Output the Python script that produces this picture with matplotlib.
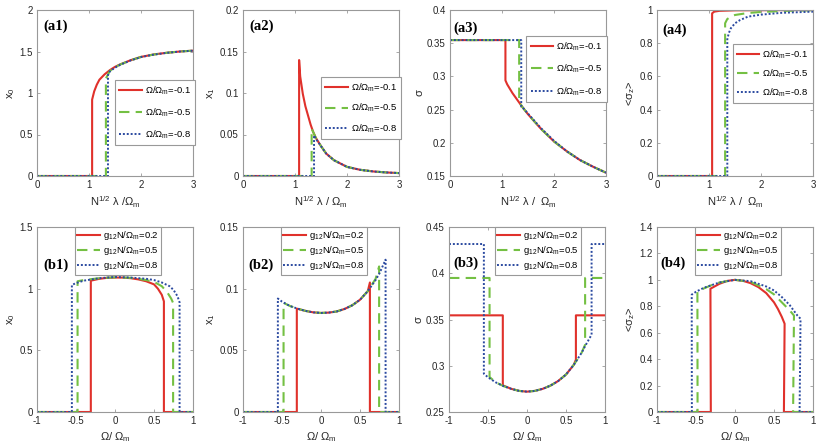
import numpy as np
import matplotlib
matplotlib.use("Agg")
import matplotlib.pyplot as plt
from matplotlib.ticker import FormatStrFormatter

plt.rcParams['font.family'] = ['Liberation Sans', 'DejaVu Sans']
plt.rcParams['mathtext.fontset'] = 'custom'
plt.rcParams['mathtext.rm'] = 'Liberation Sans'
plt.rcParams['mathtext.it'] = 'Liberation Sans'
plt.rcParams['mathtext.bf'] = 'Liberation Sans:bold'
plt.rcParams['axes.unicode_minus'] = False

# ---------------- data ----------------
# top row: x = N^(1/2) lambda / Omega_m, curves for Omega/Omega_m = -0.1, -0.5, -0.8
top_labels = [r'Ω/Ω$_\mathrm{m}$=-0.1', r'Ω/Ω$_\mathrm{m}$=-0.5', r'Ω/Ω$_\mathrm{m}$=-0.8']

# (a1) x0
a1_crit = [1.06, 1.325, 1.365]
a1_red_x = [1.06, 1.1, 1.15, 1.2, 1.3, 1.4, 1.5, 1.6, 1.8, 2.0, 2.25, 2.5, 2.75, 3.0]
a1_red_y = [0.92, 1.02, 1.10, 1.16, 1.225, 1.275, 1.315, 1.345, 1.395, 1.435, 1.465, 1.485, 1.50, 1.51]
a1_green_x = [1.325, 1.4, 1.5, 1.6, 1.8, 2.0, 2.25, 2.5, 2.75, 3.0]
a1_green_y = [1.175, 1.265, 1.31, 1.343, 1.394, 1.434, 1.464, 1.485, 1.50, 1.51]
a1_blue_x = [1.365, 1.4, 1.5, 1.6, 1.8, 2.0, 2.25, 2.5, 2.75, 3.0]
a1_blue_y = [1.215, 1.26, 1.305, 1.34, 1.392, 1.433, 1.463, 1.484, 1.50, 1.51]

# (a2) x1
a2_crit = [1.079, 1.32, 1.366]
a2_red_x = [1.079, 1.1, 1.15, 1.2, 1.25, 1.3, 1.35, 1.4, 1.5, 1.6, 1.75, 2.0, 2.25, 2.5, 2.75, 3.0]
a2_red_y = [0.1397, 0.12, 0.099, 0.084, 0.073, 0.062, 0.053, 0.046, 0.036, 0.027, 0.019, 0.011, 0.0075, 0.0055, 0.0043, 0.0035]
a2_green_x = [1.32, 1.35, 1.4, 1.5, 1.6, 1.75, 2.0, 2.25, 2.5, 2.75, 3.0]
a2_green_y = [0.057, 0.053, 0.046, 0.036, 0.027, 0.019, 0.011, 0.0075, 0.0055, 0.0043, 0.0035]
a2_blue_x = [1.366, 1.4, 1.5, 1.6, 1.75, 2.0, 2.25, 2.5, 2.75, 3.0]
a2_blue_y = [0.049, 0.045, 0.036, 0.027, 0.019, 0.011, 0.0075, 0.0055, 0.0043, 0.0035]

# (a3) sigma
a3_flat = 0.3547
a3_crit = [1.066, 1.33, 1.37]
a3_red_x = [1.066, 1.1, 1.2, 1.3, 1.4, 1.5, 1.75, 2.0, 2.25, 2.5, 2.75, 3.0]
a3_red_y = [0.294, 0.288, 0.275, 0.264, 0.253, 0.243, 0.221, 0.202, 0.187, 0.174, 0.164, 0.155]
a3_green_x = [1.33, 1.4, 1.5, 1.75, 2.0, 2.25, 2.5, 2.75, 3.0]
a3_green_y = [0.261, 0.253, 0.243, 0.221, 0.202, 0.187, 0.174, 0.164, 0.155]
a3_blue_x = [1.37, 1.4, 1.5, 1.75, 2.0, 2.25, 2.5, 2.75, 3.0]
a3_blue_y = [0.2545, 0.253, 0.244, 0.222, 0.203, 0.187, 0.174, 0.164, 0.155]

# (a4) <sigma_z>
a4_crit = [1.06, 1.31, 1.352]
a4_red_x = [1.06, 1.1, 1.2, 1.5, 3.0]
a4_red_y = [0.98, 0.99, 0.995, 0.998, 1.0]
a4_green_x = [1.31, 1.35, 1.42, 1.5, 1.75, 2.0, 2.5, 3.0]
a4_green_y = [0.92, 0.945, 0.96, 0.97, 0.982, 0.988, 0.995, 0.998]
a4_blue_x = [1.352, 1.38, 1.42, 1.5, 1.6, 1.75, 2.0, 2.4, 3.0]
a4_blue_y = [0.823, 0.86, 0.89, 0.92, 0.94, 0.96, 0.972, 0.983, 0.99]

# bottom row: x = Omega/Omega_m, curves for g12 N/Omega_m = 0.2, 0.5, 0.8
bot_labels = [r'g$_{12}$N/Ω$_\mathrm{m}$=0.2', r'g$_{12}$N/Ω$_\mathrm{m}$=0.5', r'g$_{12}$N/Ω$_\mathrm{m}$=0.8']
bot_left = [-0.31, -0.48, -0.553]
bot_right = [0.627, 0.745, 0.828]

# (b1) x0
b1_red_x = [-0.31, -0.2, -0.1, 0.0, 0.1, 0.2, 0.3, 0.4, 0.5, 0.55, 0.6, 0.627]
b1_red_y = [1.065, 1.08, 1.088, 1.09, 1.09, 1.085, 1.075, 1.06, 1.035, 1.0, 0.95, 0.897]
b1_green_x = [-0.48, -0.4, -0.2, 0.0, 0.2, 0.4, 0.5, 0.6, 0.67, 0.72, 0.745]
b1_green_y = [1.06, 1.07, 1.085, 1.092, 1.088, 1.07, 1.055, 1.02, 0.97, 0.92, 0.884]
b1_blue_x = [-0.553, -0.5, -0.4, -0.2, 0.0, 0.2, 0.4, 0.5, 0.6, 0.7, 0.75, 0.8, 0.828]
b1_blue_y = [1.03, 1.045, 1.065, 1.085, 1.095, 1.09, 1.08, 1.07, 1.05, 1.02, 0.99, 0.94, 0.889]

# (b2) x1
b2_red_x = [-0.31, -0.2, -0.1, 0.0, 0.1, 0.2, 0.3, 0.4, 0.5, 0.6, 0.627]
b2_red_y = [0.0838, 0.082, 0.0808, 0.0803, 0.0806, 0.0815, 0.0835, 0.0865, 0.091, 0.098, 0.105]
b2_green_x = [-0.48, -0.4, -0.3, -0.2, -0.1, 0.0, 0.1, 0.2, 0.3, 0.4, 0.5, 0.6, 0.7, 0.745]
b2_green_y = [0.0885, 0.086, 0.0838, 0.082, 0.0808, 0.0803, 0.0806, 0.0815, 0.0835, 0.0865, 0.091, 0.098, 0.108, 0.118]
b2_blue_x = [-0.553, -0.5, -0.4, -0.3, -0.2, -0.1, 0.0, 0.1, 0.2, 0.3, 0.4, 0.5, 0.6, 0.7, 0.75, 0.828]
b2_blue_y = [0.092, 0.0895, 0.086, 0.0838, 0.082, 0.0808, 0.0803, 0.0806, 0.0815, 0.0835, 0.0865, 0.091, 0.098, 0.107, 0.1125, 0.1235]

# (b3) sigma
b3_flat = [0.3545, 0.3949, 0.4316]
b3_red_x = [-0.31, -0.2, -0.1, 0.0, 0.1, 0.2, 0.3, 0.4, 0.5, 0.6, 0.627]
b3_red_y = [0.2788, 0.275, 0.2728, 0.272, 0.2728, 0.275, 0.2785, 0.2835, 0.2905, 0.301, 0.3066]
b3_green_x = [-0.48, -0.4, -0.3, -0.2, -0.1, 0.0, 0.1, 0.2, 0.3, 0.4, 0.5, 0.6, 0.7, 0.745]
b3_green_y = [0.2878, 0.282, 0.278, 0.275, 0.2728, 0.272, 0.2728, 0.275, 0.2785, 0.2835, 0.2905, 0.301, 0.314, 0.3227]
b3_blue_x = [-0.553, -0.5, -0.4, -0.3, -0.2, -0.1, 0.0, 0.1, 0.2, 0.3, 0.4, 0.5, 0.6, 0.7, 0.75, 0.828]
b3_blue_y = [0.2914, 0.2875, 0.282, 0.278, 0.275, 0.2728, 0.272, 0.2728, 0.275, 0.2785, 0.2835, 0.2905, 0.301, 0.314, 0.322, 0.3336]

# (b4) <sigma_z>
b4_red_x = [-0.315, -0.2, -0.1, 0.0, 0.1, 0.2, 0.3, 0.4, 0.5, 0.55, 0.6, 0.636]
b4_red_y = [0.933, 0.97, 0.992, 1.0, 0.993, 0.975, 0.945, 0.90, 0.83, 0.78, 0.72, 0.668]
b4_green_x = [-0.482, -0.4, -0.3, -0.2, 0.0, 0.2, 0.4, 0.5, 0.6, 0.7, 0.756]
b4_green_y = [0.91, 0.935, 0.96, 0.98, 1.0, 0.985, 0.93, 0.89, 0.83, 0.77, 0.73]
b4_blue_x = [-0.555, -0.5, -0.4, -0.2, 0.0, 0.2, 0.4, 0.5, 0.6, 0.7, 0.8, 0.84]
b4_blue_y = [0.888, 0.91, 0.94, 0.98, 1.0, 0.99, 0.95, 0.92, 0.87, 0.81, 0.73, 0.706]

colors = ['#e0312b', '#74c043', '#2b4aa0']
styles = [dict(ls='-', lw=1.5), dict(ls=(0, (5, 3)), lw=1.5), dict(ls=(0, (1, 1)), lw=1.4)]


def top_series(crit, cx, cy, base=0.0):
    # flat base value up to the critical point, then the curve
    return [0.0, crit] + list(cx), [base, base] + list(cy)


def bot_series(left, right, cx, cy, base=0.0):
    return [-1.0, left] + list(cx) + [right, 1.0], [base, base] + list(cy) + [base, base]


def style_axes(ax, xlim, ylim, xticks, yticks):
    ax.set_xlim(xlim)
    ax.set_ylim(ylim)
    ax.set_xticks(xticks)
    ax.set_yticks(yticks)
    ax.xaxis.set_major_formatter(FormatStrFormatter('%g'))
    ax.yaxis.set_major_formatter(FormatStrFormatter('%g'))
    ax.tick_params(direction='in', length=2.5, width=0.6, top=True, right=True,
                   labelsize=7, colors='#262626', pad=3)
    ax.tick_params(color='#999999')
    for s in ax.spines.values():
        s.set_color('#999999')
        s.set_linewidth(0.8)


def add_legend(ax, labels, x, y, spacing, pad):
    leg = ax.legend(labels, loc='upper left', bbox_to_anchor=(x, y), borderaxespad=0,
                    fontsize=6.8, handlelength=2.4, labelspacing=spacing, fancybox=False,
                    framealpha=1, edgecolor='#999999', borderpad=pad, handletextpad=0.3)
    leg.get_frame().set_linewidth(0.8)


def panel_label(ax, text, x, y):
    ax.text(x, y, text, transform=ax.transAxes, ha='left', va='top',
            fontsize=10.5, fontweight='bold', family='Liberation Serif')


fig = plt.figure(figsize=(8.3, 4.46), dpi=100)
W, H = 830.0, 446.0
lefts_top = [37, 243, 450, 657]
lefts_bot = [37, 243, 449, 657]
axw = 156
top_y0, top_y1 = 10, 176
bot_y0, bot_y1 = 227, 412

axes_top = [fig.add_axes([l / W, 1 - top_y1 / H, axw / W, (top_y1 - top_y0) / H]) for l in lefts_top]
axes_bot = [fig.add_axes([l / W, 1 - bot_y1 / H, axw / W, (bot_y1 - bot_y0) / H]) for l in lefts_bot]

xlab_top = [r'N$^{1/2}$ λ /Ω$_\mathrm{m}$', r'N$^{1/2}$ λ / Ω$_\mathrm{m}$',
            r'N$^{1/2}$ λ /  Ω$_\mathrm{m}$', r'N$^{1/2}$ λ /  Ω$_\mathrm{m}$']
ylab = [r'x$_0$', r'x$_1$', 'σ', r'<σ$_z$>']

# top row
top_data = [
    (a1_crit, [(a1_red_x, a1_red_y), (a1_green_x, a1_green_y), (a1_blue_x, a1_blue_y)], 0.0),
    (a2_crit, [(a2_red_x, a2_red_y), (a2_green_x, a2_green_y), (a2_blue_x, a2_blue_y)], 0.0),
    (a3_crit, [(a3_red_x, a3_red_y), (a3_green_x, a3_green_y), (a3_blue_x, a3_blue_y)], a3_flat),
    (a4_crit, [(a4_red_x, a4_red_y), (a4_green_x, a4_green_y), (a4_blue_x, a4_blue_y)], 0.0),
]
for ax, (crit, curves, base) in zip(axes_top, top_data):
    for i, (cx, cy) in enumerate(curves):
        xs, ys = top_series(crit[i], cx, cy, base)
        ax.plot(xs, ys, color=colors[i], **styles[i])

style_axes(axes_top[0], (0, 3), (0, 2), [0, 1, 2, 3], [0, 0.5, 1, 1.5, 2])
style_axes(axes_top[1], (0, 3), (0, 0.2), [0, 1, 2, 3], [0, 0.05, 0.1, 0.15, 0.2])
style_axes(axes_top[2], (0, 3), (0.15, 0.4), [0, 1, 2, 3], [0.15, 0.2, 0.25, 0.3, 0.35, 0.4])
style_axes(axes_top[3], (0, 3), (0, 1), [0, 1, 2, 3], [0, 0.2, 0.4, 0.6, 0.8, 1])

leg_top = [(0.5, 0.578, 1.0), (0.5, 0.596, 0.85), (0.49, 0.843, 1.05), (0.484, 0.795, 0.7)]
for ax, (lx, ly, sp) in zip(axes_top, leg_top):
    add_legend(ax, top_labels, lx, ly, sp, 0.45)

for ax, t, (px, py) in zip(axes_top, ['(a1)', '(a2)', '(a3)', '(a4)'],
                           [(0.04, 0.94), (0.04, 0.94), (0.02, 0.93), (0.035, 0.92)]):
    panel_label(ax, t, px, py)

for ax, xl, yl in zip(axes_top, xlab_top, ylab):
    ax.set_xlabel(xl, fontsize=8, color='#262626', labelpad=3)
    ax.set_ylabel(yl, fontsize=8, color='#262626', labelpad=2)

# bottom row
bot_data = [
    ([(b1_red_x, b1_red_y), (b1_green_x, b1_green_y), (b1_blue_x, b1_blue_y)], [0.0] * 3),
    ([(b2_red_x, b2_red_y), (b2_green_x, b2_green_y), (b2_blue_x, b2_blue_y)], [0.0] * 3),
    ([(b3_red_x, b3_red_y), (b3_green_x, b3_green_y), (b3_blue_x, b3_blue_y)], b3_flat),
    ([(b4_red_x, b4_red_y), (b4_green_x, b4_green_y), (b4_blue_x, b4_blue_y)], [0.0] * 3),
]
for ax, (curves, bases) in zip(axes_bot, bot_data):
    for i, (cx, cy) in enumerate(curves):
        xs, ys = bot_series(bot_left[i], bot_right[i], cx, cy, bases[i])
        ax.plot(xs, ys, color=colors[i], **styles[i])

bx = [-1, -0.5, 0, 0.5, 1]
style_axes(axes_bot[0], (-1, 1), (0, 1.5), bx, [0, 0.5, 1, 1.5])
style_axes(axes_bot[1], (-1, 1), (0, 0.15), bx, [0, 0.05, 0.1, 0.15])
style_axes(axes_bot[2], (-1, 1), (0.25, 0.45), bx, [0.25, 0.3, 0.35, 0.4, 0.45])
style_axes(axes_bot[3], (-1, 1), (0, 1.4), bx, [0, 0.2, 0.4, 0.6, 0.8, 1, 1.2, 1.4])

leg_bot = [(0.244, 1.0), (0.244, 1.0), (0.293, 1.0), (0.244, 1.0)]
for ax, (lx, ly) in zip(axes_bot, leg_bot):
    add_legend(ax, bot_labels, lx, ly, 0.2, 0.25)

for ax, t, (px, py) in zip(axes_bot, ['(b1)', '(b2)', '(b3)', '(b4)'],
                           [(0.04, 0.83), (0.035, 0.83), (0.025, 0.84), (0.02, 0.84)]):
    panel_label(ax, t, px, py)

for ax, yl in zip(axes_bot, ylab):
    ax.set_xlabel(r'Ω/ Ω$_\mathrm{m}$', fontsize=8, color='#262626', labelpad=3)
    ax.set_ylabel(yl, fontsize=8, color='#262626', labelpad=2)

fig.savefig('out.png', dpi=100)
